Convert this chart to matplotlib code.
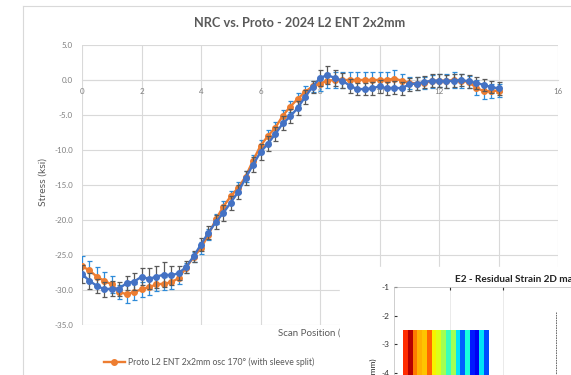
import numpy as np
import matplotlib
matplotlib.use("Agg")
import matplotlib.pyplot as plt
from matplotlib.patches import Rectangle
from matplotlib.lines import Line2D

plt.rcParams['font.family'] = ['Lato', 'DejaVu Sans']

# scan positions (mm)
pos = [0.0, 0.25, 0.5, 0.75, 1.0, 1.25, 1.5, 1.75,
       2.0, 2.25, 2.5, 2.75, 3.0, 3.25, 3.5, 3.75,
       4.0, 4.25, 4.5, 4.75, 5.0, 5.25, 5.5, 5.75,
       6.0, 6.25, 6.5, 6.75, 7.0, 7.25, 7.5, 7.75,
       8.0, 8.25, 8.5, 8.75, 9.0, 9.25, 9.5, 9.75,
       10.0, 10.25, 10.5, 10.75, 11.0, 11.25, 11.5, 11.75,
       12.0, 12.25, 12.5, 12.75, 13.0, 13.25, 13.5, 13.75,
       14.0]

# Proto L2 ENT 2x2mm osc 170 (orange)
proto = [-26.6, -27.2, -28.1, -28.7, -29.2, -30.3, -30.6, -30.3,
         -29.9, -29.6, -29.2, -29.1, -28.9, -28.3, -26.8, -25.3,
         -24.0, -22.1, -19.9, -18.1, -16.6, -15.4, -13.8, -11.5,
         -9.4, -8.0, -6.8, -5.1, -3.8, -2.7, -1.7, -0.9,
         -0.5, -0.1, 0.0, 0.0, 0.0, 0.0, 0.0, 0.0,
         0.0, 0.0, 0.2, -0.1, -0.4, -0.5, -0.4, -0.2,
         -0.1, -0.1, 0.0, -0.1, -0.3, -1.1, -1.6, -1.6,
         -1.5]
proto_err = [1.5, 1.4, 1.4, 1.3, 1.2, 1.0, 1.3, 1.1,
             1.1, 1.1, 1.0, 0.9, 1.0, 0.8, 0.7, 0.7,
             0.8, 0.8, 0.7, 0.8, 0.8, 0.8, 0.8, 0.8,
             0.8, 0.8, 0.8, 0.8, 0.8, 0.8, 0.8, 0.8,
             1.0, 1.1, 1.1, 1.1, 1.1, 1.1, 1.1, 1.1,
             1.1, 1.1, 1.2, 1.0, 0.9, 0.9, 0.9, 0.9,
             0.9, 1.0, 1.1, 1.0, 0.9, 1.1, 1.1, 1.0,
             0.9]

# NRC (blue)
nrc = [-27.7, -28.7, -29.4, -29.9, -29.8, -29.8, -29.0, -28.8,
       -28.1, -28.4, -28.1, -27.8, -27.9, -27.6, -26.7, -25.2,
       -23.5, -21.8, -20.3, -19.0, -17.5, -16.0, -14.0, -12.1,
       -10.3, -9.1, -7.7, -6.2, -5.2, -4.0, -2.4, -1.0,
       0.3, 0.7, 0.3, -0.1, -0.8, -1.3, -1.3, -1.2,
       -0.9, -1.2, -1.1, -1.2, -0.6, -0.5, -0.3, -0.1,
       -0.1, -0.2, -0.1, 0.0, -0.2, -0.4, -0.7, -1.0,
       -1.2]
nrc_err = [1.3, 1.2, 1.0, 1.1, 1.1, 1.0, 1.0, 1.2,
           1.2, 1.5, 1.6, 1.8, 1.4, 1.0, 0.8, 0.8,
           0.9, 0.9, 1.0, 1.1, 1.0, 1.0, 1.0, 1.1,
           1.1, 1.1, 1.0, 1.0, 1.0, 1.0, 1.0, 0.9,
           1.2, 1.3, 1.2, 1.1, 1.0, 0.9, 0.9, 0.9,
           0.9, 0.9, 0.9, 0.9, 0.9, 0.9, 0.9, 0.9,
           0.9, 0.9, 0.9, 0.9, 0.9, 0.9, 0.9, 0.9,
           0.9]

# strain map columns (colormap fraction) for the overlapping inset
strain_cols = [0.86, 0.95, 0.78, 0.72, 0.7, 0.8, 0.65, 0.62, 0.55, 0.42,
               0.55, 0.35, 0.22, 0.38, 0.15, 0.1, 0.35, 0.2]

W, H = 571, 375
fig = plt.figure(figsize=(W / 100, H / 100), dpi=100)
grid_c = '#D9D9D9'
text_c = '#595959'

# chart frame
fig.add_artist(Line2D([23 / W, 23 / W], [0, 1 - 6 / H], color=grid_c, lw=0.8))
fig.add_artist(Line2D([23 / W, 1], [1 - 6 / H, 1 - 6 / H], color=grid_c, lw=0.8))

ax = fig.add_axes([82 / W, 50 / H, 476 / W, 280 / H])
ax.set_xlim(0, 16)
ax.set_ylim(-35, 5)
ax.set_xticks(range(0, 17, 2))
ax.set_yticks(range(-35, 6, 5))
ax.set_yticklabels(['%.1f' % v for v in range(-35, 6, 5)])
ax.grid(True, color=grid_c, lw=0.8)
ax.set_axisbelow(True)
for s in ['top', 'right', 'left']:
    ax.spines[s].set_visible(False)
ax.spines['bottom'].set_position(('data', 0))
ax.spines['bottom'].set_color(grid_c)
ax.tick_params(axis='x', length=0, pad=6, labelsize=5.8, labelcolor='#7F7F7F')
ax.tick_params(axis='y', length=0, pad=6.5, labelsize=5.8, labelcolor='#7F7F7F')

ax.errorbar(pos, proto, yerr=proto_err, color='#ED7D31', ecolor='#2E8BD8',
            lw=1.7, marker='o', ms=4, elinewidth=0.9, capsize=1.8, capthick=0.9,
            zorder=3)
ax.errorbar(pos, nrc, yerr=nrc_err, color='#4472C4', ecolor='#595959',
            lw=1.7, marker='o', ms=4, elinewidth=0.9, capsize=1.8, capthick=0.9,
            zorder=4)

fig.text(300 / W, 1 - 23 / H, 'NRC vs. Proto - 2024 L2 ENT 2x2mm', ha='center',
         va='center', fontsize=9.2, fontweight='bold', color=text_c)
fig.text(43 / W, 1 - 182 / H, 'Stress (ksi)', rotation=90, ha='center',
         va='center', fontsize=7.5, color=text_c)
fig.text(318 / W, 1 - 333 / H, 'Scan Position (mm)', ha='center', va='center',
         fontsize=7, color=text_c)

h = Line2D([], [], color='#ED7D31', lw=1.7, marker='o', ms=4)
fig.legend(handles=[h], labels=['Proto L2 ENT 2x2mm osc 170° (with sleeve split)'],
           loc='center left', bbox_to_anchor=(104 / W, 1 - 362 / H), frameon=False,
           fontsize=6.2, handlelength=2.4, labelcolor=text_c, borderaxespad=0,
           borderpad=0, handletextpad=0.4)

# overlapping inset picture (strain map)
fig.add_artist(Rectangle((340 / W, 0), 1 - 340 / W, 1 - 267 / H,
                         transform=fig.transFigure, color='white', zorder=5))
ax2 = fig.add_axes([394 / W, -25 / H, 226 / W, 113 / H], zorder=6)
ax2.set_xlim(-1.057, 3.207)
ax2.set_ylim(-4.94, -1)
img = np.array([strain_cols])
ax2.imshow(img, cmap='jet', vmin=0, vmax=1, aspect='auto',
           extent=(-0.887, 0.717, -6, -2.5), interpolation='nearest', zorder=2)
ax2.set_xticks([0, 1])
ax2.set_xticklabels([])
ax2.set_yticks([-1, -2, -3, -4])
ax2.set_yticklabels(['-1', '-2', '-3', '-4'])
ax2.tick_params(labelsize=6, length=2, colors='#333333', top=True, direction='in')
ax2.grid(True, axis='x', color='#E6E6E6', lw=0.6)
ax2.axvline(2.0, color='#555555', lw=0.6, ls=(0, (2, 1)), ymax=0.78)
for s in ax2.spines.values():
    s.set_color('#BBBBBB')
    s.set_linewidth(0.5)
fig.text(455 / W, 1 - 279 / H, 'E2 - Residual Strain 2D map', ha='left',
         va='center', fontsize=7.2, fontweight='bold', color='#222222', zorder=7)
fig.text(373 / W, 1 - 358 / H, 'Y (mm)', rotation=90, ha='center', va='top',
         fontsize=6, color='#222222', zorder=7)

fig.savefig('out.png', dpi=100)
